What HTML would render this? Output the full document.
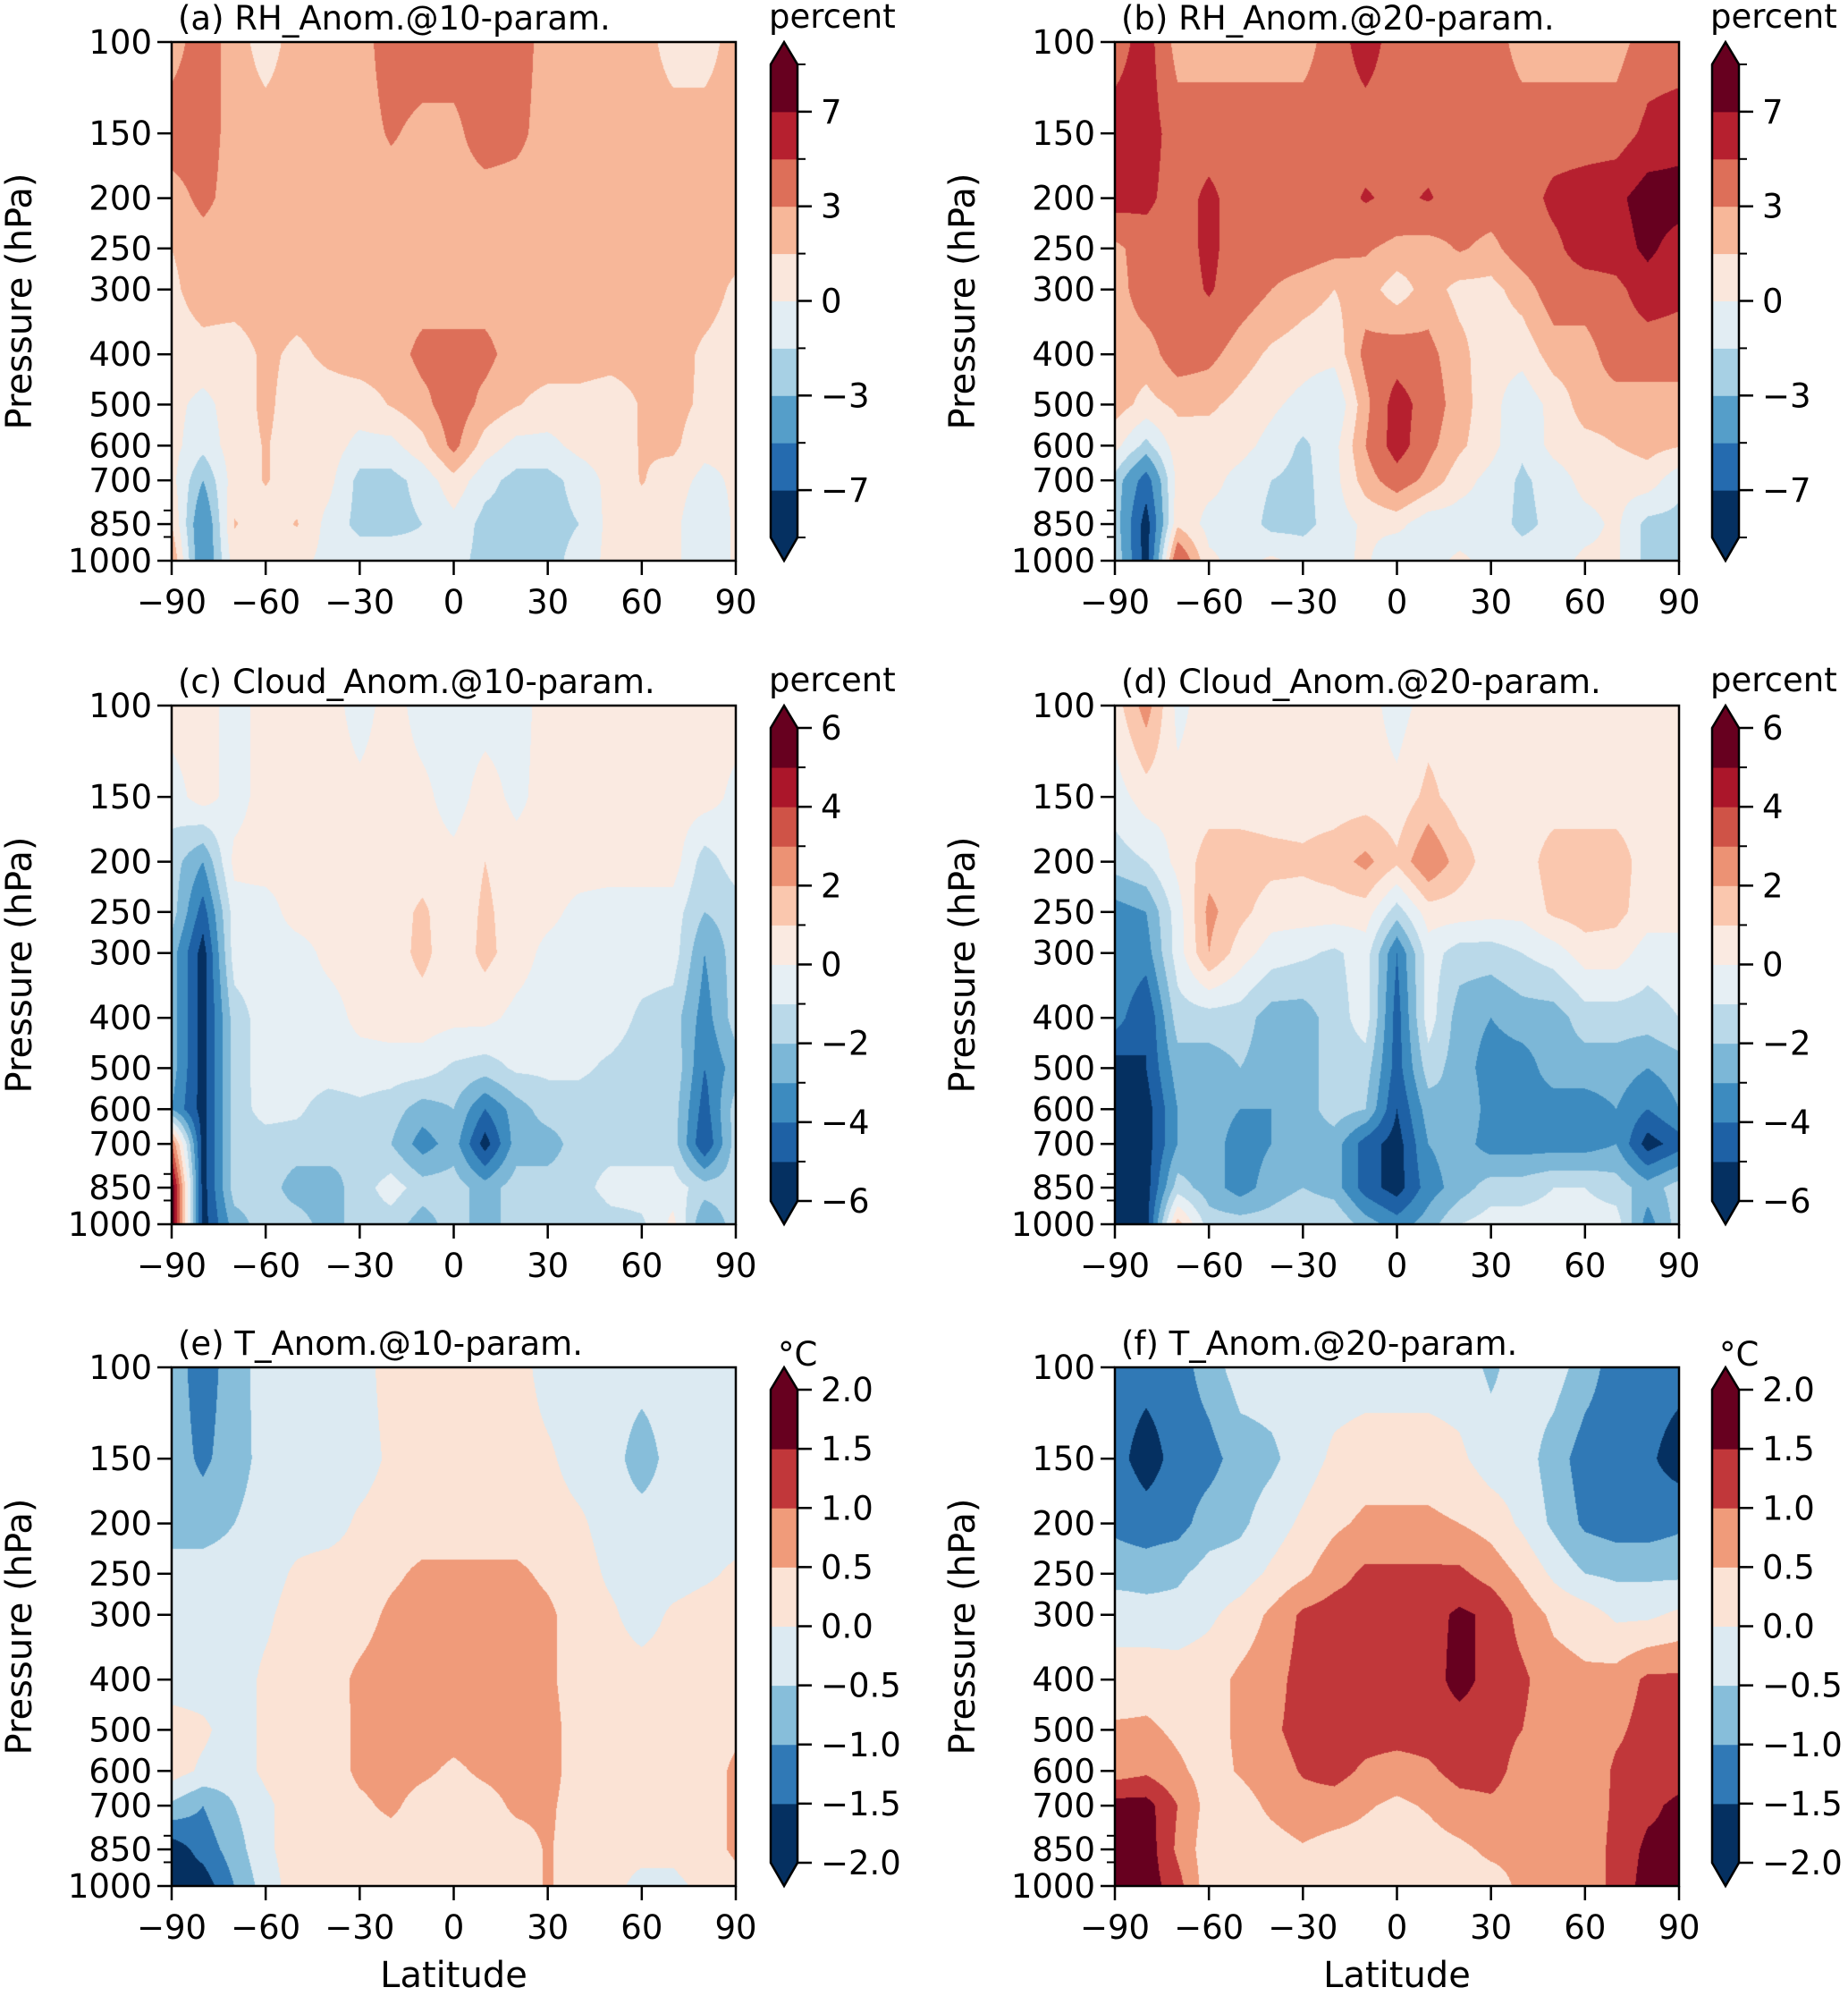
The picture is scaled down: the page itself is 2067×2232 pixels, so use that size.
<!DOCTYPE html>
<html><head><meta charset="utf-8">
<style>
html,body{margin:0;padding:0;background:#fff;}
body{width:2067px;height:2232px;position:relative;overflow:hidden;font-family:"DejaVu Sans","Liberation Sans",sans-serif;}
canvas{position:absolute;}
svg{position:absolute;left:0;top:0;}
</style></head>
<body>
<canvas id="cv0"></canvas>
<canvas id="cv1"></canvas>
<canvas id="cv2"></canvas>
<canvas id="cv3"></canvas>
<canvas id="cv4"></canvas>
<canvas id="cv5"></canvas>
<svg id="ov" width="2067" height="2232"></svg>
<script>
const LATS=[-90,-80,-70,-60,-50,-40,-30,-20,-10,0,10,20,30,40,50,60,70,80,90];
const PRES=[100,150,200,250,300,400,500,600,700,850,1000];
const latTicks=[-90,-60,-30,0,30,60,90];
const presTicks=[100,150,200,250,300,400,500,600,700,850,1000];
const presMinor=[800,900];
const rhLevels=[-9,-7,-5,-3,-1.5,0,1.5,3,5,7,9];
const rhTicks=[-7,-3,0,3,7];
const cldLevels=[-6,-5,-4,-3,-2,-1,0,1,2,3,4,5,6];
const cldTicks=[-6,-4,-2,0,2,4,6];
const tLevels=[-2,-1.5,-1,-0.5,0,0.5,1,1.5,2];
const tTicks=[-2,-1.5,-1,-0.5,0,0.5,1,1.5,2];
const tTickLabels=["−2.0","−1.5","−1.0","−0.5","0.0","0.5","1.0","1.5","2.0"];

const rh10=[
[2.2,4,2.2,0.8,2.2,2.2,2.2,4,4,4,4,4,2.2,2.2,2.2,2.2,0.8,0.8,2.2],
[4,4,2.2,2.2,2.2,2.2,2.2,3.2,2.5,2.5,4,3.5,2.2,2.2,2.2,2.2,2.2,2.2,2.2],
[2.2,3.5,2.2,2.2,2.2,2.2,2.2,2.2,2.2,2.2,2.2,2.2,2.2,2.2,2.2,2.2,2.2,2.2,2.2],
[1.5,2.2,2.2,2.2,2.2,2.2,2.2,2.2,2.2,2.2,2.2,2.2,2.2,2.2,2.2,2.2,2.2,2.2,2],
[1.2,2.2,2.2,2.2,2.2,2.2,2.2,2.2,2.2,2.2,2.2,2.2,2.2,2.2,2.2,2.2,2.2,2.2,1.2],
[0.8,1,0.8,1.8,1.2,1.8,2.2,2.2,3.5,3.5,3.5,2.2,2.2,2.2,2,2,2.2,1.2,0.8],
[0.5,-0.5,0.8,1.8,0.8,0.8,0.8,1.6,2.5,4,2.5,1.6,1,1,0.8,1.6,2,1.2,0.5],
[0.5,-1,0.8,1.6,0.8,0.8,-0.5,-0.5,1,3.5,0.8,-0.5,-0.5,0.5,0.8,1.6,1.8,0.5,0.3],
[0.5,-3,0.8,1.6,0.8,0.5,-2,-2,-1,1,-1,-2,-2,-1,0.5,1.6,0.8,-0.5,0.3],
[1.5,-5,1.6,0.8,1.6,-0.5,-2,-2,-1.5,-0.5,-2,-2,-2,-1.5,0.5,0.8,0.5,-1.5,0.3],
[3,-5,0.8,0.5,0.5,-0.5,-0.5,-0.5,-1,-1,-2,-2,-2,-1,0.5,0.5,0.5,-1.5,0.3]];
const rh20=[
[4,6,2.2,2.2,2.2,2.2,2.2,4,6,4,4,4,4,2.2,2.2,2.2,2.2,4,4],
[6,6,4,4,4,4,4,4,4,4,4,4,4,4,4,4,4,5.5,6],
[6,5.5,4,5.5,4,4,4,4,5.2,4.5,5.2,4,4,4,5.5,6,6.5,8,8],
[2.5,4,4,5.5,4,4,4,3.5,3.2,2.5,2.2,3.2,2.5,4,4.5,6,6,7.5,6],
[2.2,4,4,5.2,4,3,2.2,1.5,2.2,0.7,2.2,1,1,2.2,4,4,4.5,6,5.5],
[2.2,2.2,4,3.5,2.2,1.2,0.7,0.5,3.5,4,3.5,2,0.5,0.5,2.2,2.2,4,4,4],
[2.2,1,1.8,1.8,1,0.3,-0.5,-1.5,2.5,6,4,2.2,0.5,-1,0.5,2.2,2.2,2.2,2.2],
[0.5,-2,0.8,0.7,0.5,-0.5,-1.8,-0.5,3,6,3.5,1.8,0.5,-1.2,0.5,1,1.5,2,1.6],
[-2,-6,0.5,0.5,-0.5,-1.5,-2,-0.5,2.2,4,2.5,0.6,-0.5,-1.8,-0.8,0.5,0.5,0.8,-1],
[-2,-8,1.2,-0.5,-0.5,-2,-2,-0.8,0.3,0.5,-1,-0.8,-0.5,-2,-1,-0.5,0.3,-2,-2],
[-1.5,-8,5,0.3,-0.5,0.3,-0.5,-0.5,0.3,-1.5,-0.5,0.3,-0.5,-0.5,-0.5,0.3,0.3,-2,-2]];
const cld10=[
[0.5,0.5,-0.5,0.5,0.5,0.5,-0.5,0.5,-0.5,-0.5,-0.5,-0.5,0.5,0.5,0.5,0.5,0.5,0.5,0.5],
[-0.5,0.5,-0.5,0.5,0.5,0.5,0.3,0.5,0.3,-0.5,0.5,-0.3,0.5,0.5,0.5,0.5,0.5,0.5,-0.3],
[-1.5,-3,0.3,0.5,0.5,0.5,0.5,0.3,0.5,0.3,1,0.5,0.5,0.5,0.5,0.5,0.5,-1.5,-0.5],
[-1.5,-4.5,-0.5,-0.5,0.5,0.5,0.5,0.5,1.2,0.3,1.2,0.5,0.3,-0.3,-0.5,-0.5,-0.5,-2,-1.5],
[-2.5,-5.5,-0.5,-0.5,-0.5,0.3,0.5,0.5,1.3,0.3,1.3,0.5,-0.3,-0.5,-0.5,-0.5,-0.5,-3,-1.5],
[-2.5,-5.5,-1.5,-0.5,-0.5,-0.5,0.3,0.5,0.5,0.3,0.3,-0.3,-0.5,-0.5,-0.5,-1.2,-1.5,-3.5,-1.5],
[-2.5,-5.5,-1.5,-0.5,-0.5,-0.5,-0.5,-0.5,-0.5,-1.2,-1.5,-0.8,-0.8,-0.8,-1.2,-1.5,-1.2,-4,-2.5],
[-3,-5.5,-1.5,-0.6,-0.8,-1.5,-1.2,-1.5,-2.5,-2,-4,-2.5,-1.5,-1.5,-1.5,-1.5,-1.5,-4.5,-1.5],
[3,-5.5,-1.5,-1.5,-1.5,-1.5,-2,-2,-3.5,-2.5,-5.5,-2.5,-2.5,-1.5,-1.5,-1.5,-1.5,-5,-1.5],
[6,-5.5,-1.5,-1.5,-2.5,-2.5,-1.5,-0.5,-1.5,-1.5,-2.5,-1.5,-1.5,-1.5,-0.5,-0.5,-0.5,-1.5,-1.5],
[6,-5.5,-2.5,-1.5,-1.5,-2.5,-1.5,-1.5,-2.5,-1.5,-2.5,-1.5,-1.5,-2,-1.5,-1.2,0.3,-3,-1.5]];
const cld20=[
[0.5,2.5,-0.3,0.5,0.5,0.5,0.5,0.5,0.5,-0.5,0.5,0.5,0.5,0.5,0.5,0.5,0.5,0.5,0.5],
[-0.5,0.5,0.3,0.5,0.5,0.5,0.5,0.5,0.5,0.3,1.3,0.5,0.5,0.5,0.5,0.5,0.5,0.5,0.5],
[-1.5,-1,0.3,1.5,1.5,1.3,1.2,1.5,2.3,1.2,3,1.5,0.5,0.5,1.5,1.5,1.5,0.5,0.5],
[-3.5,-3,-0.5,2.3,1.3,0.5,0.5,0.5,0.5,-1.5,0.5,0.5,0.3,0.3,1.2,1.5,1.3,0.5,0.3],
[-3,-3.5,-0.5,2,0.5,-0.5,-0.8,-1.2,-0.5,-4,-0.5,-1.5,-1.5,-1,-0.5,0.5,0.5,-0.5,-0.3],
[-3.5,-5,-1.5,-1.5,-1.5,-2.5,-2.5,-1.5,-0.5,-4.5,-0.5,-2.5,-3,-2.5,-2.5,-1.5,-1.5,-1.5,-1],
[-5.5,-5,-2.5,-2.5,-2,-2.5,-2.5,-1.5,-1.5,-4.5,-1.5,-2.5,-3.5,-3.5,-2.5,-2.5,-2.5,-3,-2.5],
[-5.5,-5.5,-3,-2.5,-3,-3,-2.5,-1.5,-2,-5,-2.5,-2,-3.5,-3.5,-3.5,-3.5,-3,-4,-3],
[-5.5,-5.5,-3,-2.5,-3.5,-3,-2.5,-2.5,-4.5,-5.5,-3,-2.5,-3.5,-3.5,-3.5,-3.5,-3,-5.5,-4.5],
[-5.5,-5.5,-1.5,-2.5,-3.5,-2.5,-2,-2.5,-4.5,-5.5,-3.5,-2.5,-1.5,-1.5,-1,-1,-1.5,-2.5,-1.5],
[-5.5,-5.5,1.5,-1.5,-1.5,-1.5,-1,-1,-2.5,-3.5,-2.5,-1,-0.5,-0.5,-0.5,-0.5,-0.5,-3.5,-1.5]];
const t10=[
[-0.75,-1.25,-0.75,-0.25,-0.25,-0.25,-0.25,0.25,0.25,0.25,0.25,0.25,-0.25,-0.25,-0.25,-0.25,-0.25,-0.25,-0.25],
[-0.75,-1.1,-0.75,-0.3,-0.25,-0.25,-0.25,0.1,0.25,0.25,0.25,0.25,0.1,-0.25,-0.25,-0.8,-0.25,-0.25,-0.25],
[-0.75,-0.75,-0.5,-0.25,-0.25,-0.25,0.1,0.25,0.25,0.25,0.25,0.25,0.25,0.1,-0.25,-0.25,-0.25,-0.25,-0.25],
[-0.25,-0.25,-0.25,-0.25,0.1,0.25,0.25,0.4,0.6,0.6,0.6,0.6,0.4,0.25,-0.1,-0.25,-0.25,-0.1,0.1],
[-0.25,-0.25,-0.25,-0.1,0.25,0.25,0.3,0.6,0.75,0.75,0.75,0.75,0.6,0.25,0.1,-0.25,0.1,0.25,0.25],
[-0.25,-0.25,-0.25,0.1,0.25,0.3,0.6,0.75,0.75,0.75,0.75,0.75,0.6,0.25,0.25,0.25,0.25,0.25,0.25],
[0.25,0.1,-0.25,0.1,0.25,0.25,0.6,0.75,0.75,0.7,0.75,0.75,0.7,0.25,0.25,0.25,0.25,0.25,0.4],
[0.25,-0.1,-0.25,0.1,0.25,0.25,0.6,0.7,0.6,0.4,0.6,0.7,0.7,0.25,0.25,0.25,0.25,0.25,0.6],
[-0.6,-1,-0.5,-0.1,0.25,0.25,0.4,0.6,0.3,0.25,0.3,0.6,0.6,0.25,0.25,0.25,0.25,0.25,0.6],
[-1.8,-1.3,-0.75,-0.1,0.25,0.25,0.25,0.25,0.25,0.25,0.25,0.25,0.55,0.25,0.1,0.1,0.1,0.25,0.6],
[-1.8,-1.8,-1,-0.25,0.25,0.25,0.25,0.25,0.25,0.25,0.25,0.25,0.55,0.25,0.1,-0.1,-0.1,0.1,0.3]];
const t20=[
[-1.25,-1.3,-1.25,-0.75,-0.25,-0.25,-0.25,-0.25,-0.25,-0.25,-0.25,-0.25,-0.6,-0.25,-0.25,-0.75,-1.25,-1.25,-1.3],
[-1.3,-1.75,-1.3,-1.2,-0.75,-0.6,-0.25,0.1,0.25,0.25,0.25,0.1,-0.25,-0.25,-0.75,-1.25,-1.3,-1.4,-1.75],
[-1.1,-1.25,-1.2,-0.75,-0.6,-0.25,0.1,0.4,0.6,0.6,0.6,0.5,0.3,-0.1,-0.6,-1.1,-1.25,-1.25,-1.1],
[-0.75,-0.75,-0.6,-0.3,-0.25,0.1,0.4,0.8,1.1,1.1,1.1,1.1,0.8,0.4,-0.1,-0.5,-0.6,-0.6,-0.6],
[-0.1,-0.25,-0.3,-0.1,0.2,0.6,1.1,1.25,1.25,1.25,1.3,1.6,1.4,0.8,0.4,0.25,-0.1,-0.1,0.1],
[0.1,0.25,0.25,0.3,0.6,0.8,1.2,1.25,1.25,1.25,1.25,1.7,1.3,1.1,0.7,0.6,0.7,1.1,1.1],
[0.6,0.6,0.4,0.3,0.6,0.9,1.2,1.25,1.25,1.25,1.25,1.25,1.2,1.0,0.7,0.6,0.9,1.2,1.2],
[0.75,0.9,0.6,0.3,0.55,0.75,1.05,1.2,0.9,0.75,0.9,1.2,1.2,0.8,0.7,0.6,1.1,1.2,1.3],
[1.7,1.7,1.0,0.3,0.3,0.6,0.8,0.75,0.55,0.4,0.55,0.8,0.9,0.75,0.7,0.65,1.1,1.4,1.6],
[1.7,1.8,0.9,0.2,0.25,0.3,0.45,0.3,0.3,0.3,0.3,0.4,0.6,0.6,0.6,0.6,1.2,1.6,1.6],
[1.7,1.8,1.2,0.2,0.25,0.25,0.25,0.25,0.25,0.25,0.25,0.25,0.3,0.6,0.6,0.6,1.2,1.7,1.5]];

const ANCH=["053061","2166ac","4393c3","92c5de","d1e5f0","f7f7f7","fddbc7","f4a582","d6604d","b2182b","67001f"].map(h=>[parseInt(h.slice(0,2),16),parseInt(h.slice(2,4),16),parseInt(h.slice(4,6),16)]);
function cmap(t){t=Math.max(0,Math.min(1,t));const f=t*10;const i=Math.min(9,Math.floor(f));const r=f-i;return ANCH[i].map((c,k)=>Math.round(c+(ANCH[i+1][k]-c)*r));}
function bandColors(levels){const n=levels.length-1;const out=[];for(let i=0;i<n;i++)out.push(cmap(i/(n-1)));return out;}
const rgb=c=>`rgb(${c[0]},${c[1]},${c[2]})`;

const COLX=[192,1247], CBX=[862,1915], ROWY=[47,789,1529], PW=631, PH=580, CBW=30;
const panels=[
 {data:rh10,levels:rhLevels,ticks:rhTicks,labels:null,title:"(a) RH_Anom.@10-param.",unit:"percent",c:0,r:0},
 {data:rh20,levels:rhLevels,ticks:rhTicks,labels:null,title:"(b) RH_Anom.@20-param.",unit:"percent",c:1,r:0},
 {data:cld10,levels:cldLevels,ticks:cldTicks,labels:null,title:"(c) Cloud_Anom.@10-param.",unit:"percent",c:0,r:1},
 {data:cld20,levels:cldLevels,ticks:cldTicks,labels:null,title:"(d) Cloud_Anom.@20-param.",unit:"percent",c:1,r:1},
 {data:t10,levels:tLevels,ticks:tTicks,labels:tTickLabels,title:"(e) T_Anom.@10-param.",unit:"°C",c:0,r:2},
 {data:t20,levels:tLevels,ticks:tTicks,labels:tTickLabels,title:"(f) T_Anom.@20-param.",unit:"°C",c:1,r:2}];

const LP=PRES.map(p=>Math.log(p));
const lp0=Math.log(100), lp1=Math.log(1000);
function yOf(p,y0){return y0+PH*(Math.log(p)-lp0)/(lp1-lp0);}
function xOf(lat,x0){return x0+PW*(lat+90)/180;}
function sample(g,lat,lp){
 let fi=(lat-LATS[0])/(LATS[1]-LATS[0]);let i=Math.min(LATS.length-2,Math.max(0,Math.floor(fi)));let fx=fi-i;
 let j=0;while(j<LP.length-2&&lp>LP[j+1])j++;let fy=(lp-LP[j])/(LP[j+1]-LP[j]);fy=Math.max(0,Math.min(1,fy));
 const a=g[j][i],b=g[j][i+1],c=g[j+1][i],d=g[j+1][i+1];
 return (a*(1-fx)+b*fx)*(1-fy)+(c*(1-fx)+d*fx)*fy;}

const NS="http://www.w3.org/2000/svg";
const ov=document.getElementById('ov');
function el(tag,attrs,parent){const e=document.createElementNS(NS,tag);for(const k in attrs)e.setAttribute(k,attrs[k]);(parent||ov).appendChild(e);return e;}
function fmt(v){return (v<0?"−":"")+Math.abs(v);}

panels.forEach((P,idx)=>{
 const x0=COLX[P.c], y0=ROWY[P.r], cbx=CBX[P.c];
 const cols=bandColors(P.levels);
 const cv=document.getElementById('cv'+idx);
 cv.width=PW;cv.height=PH;cv.style.left=x0+'px';cv.style.top=y0+'px';
 const ctx=cv.getContext('2d');const img=ctx.createImageData(PW,PH);
 const n=P.levels.length-1;
 for(let py=0;py<PH;py++){const lp=lp0+(lp1-lp0)*(py+0.5)/PH;
  for(let px=0;px<PW;px++){const lat=-90+180*(px+0.5)/PW;const v=sample(P.data,lat,lp);
   let k=0;while(k<n-1&&v>=P.levels[k+1])k++;const c=cols[k];const o=(py*PW+px)*4;
   img.data[o]=c[0];img.data[o+1]=c[1];img.data[o+2]=c[2];img.data[o+3]=255;}}
 ctx.putImageData(img,0,0);

 const g=el('g',{});
 
 
 const fr=el('rect',{x:x0,y:y0,width:PW,height:PH,fill:'none',stroke:'#000','stroke-width':2.5},g);
 
 
 const t=el('text',{x:x0+7,y:y0-14,'font-size':37,fill:'#000'},g);t.textContent=P.title;
 
 
 // y ticks
 presTicks.forEach(p=>{const y=yOf(p,y0);el('line',{x1:x0-16,x2:x0,y1:y,y2:y,stroke:'#000','stroke-width':2.5},g);
  const tx=el('text',{x:x0-22,y:y+13,'font-size':37,'text-anchor':'end'},g);tx.textContent=p;
  
  });
 presMinor.forEach(p=>{const y=yOf(p,y0);el('line',{x1:x0-9,x2:x0,y1:y,y2:y,stroke:'#000','stroke-width':2},g);});
 latTicks.forEach(l=>{const x=xOf(l,x0);el('line',{x1:x,x2:x,y1:y0+PH,y2:y0+PH+16,stroke:'#000','stroke-width':2.5},g);
  const tx=el('text',{x:x,y:y0+PH+59,'font-size':37,'text-anchor':'middle'},g);tx.textContent=fmt(l);
  
  });
 const yl=el('text',{x:0,y:0,'font-size':40,'text-anchor':'middle',transform:`translate(${x0-157},${y0+PH/2}) rotate(-90)`},g);
 yl.textContent="Pressure (hPa)";
 
 
 if(P.r===2){const xl=el('text',{x:x0+PW/2,y:2222,'font-size':40,'text-anchor':'middle'},g);xl.textContent="Latitude";
  
  }
 // colorbar
 const cb=el('g',{},g);
 
 
 const ct=y0+25, cbot=y0+PH-26, bh=(cbot-ct)/n;
 const yL=v=>{const k=P.levels.indexOf(v);return cbot-k*bh;};
 for(let k=0;k<n;k++){const r=el('rect',{x:cbx,y:cbot-(k+1)*bh,width:CBW,height:bh+0.5,fill:rgb(cols[k])},cb);
  
  }
 el('polygon',{points:`${cbx},${ct} ${cbx+CBW/2},${y0} ${cbx+CBW},${ct}`,fill:rgb(cols[n-1])},cb);
 el('polygon',{points:`${cbx},${cbot} ${cbx+CBW/2},${y0+PH} ${cbx+CBW},${cbot}`,fill:rgb(cols[0])},cb);
 el('polygon',{points:`${cbx},${ct} ${cbx+CBW/2},${y0} ${cbx+CBW},${ct} ${cbx+CBW},${cbot} ${cbx+CBW/2},${y0+PH} ${cbx},${cbot}`,fill:'none',stroke:'#000','stroke-width':2.5},cb);
 P.levels.forEach(v=>{const y=yL(v);el('line',{x1:cbx+CBW,x2:cbx+CBW+9,y1:y,y2:y,stroke:'#000','stroke-width':2},cb);});
 P.ticks.forEach((v,i)=>{const y=yL(v);el('line',{x1:cbx+CBW,x2:cbx+CBW+16,y1:y,y2:y,stroke:'#000','stroke-width':2.5},cb);
  const tx=el('text',{x:cbx+CBW+26,y:y+13,'font-size':37},cb);tx.textContent=P.labels?P.labels[i]:fmt(v);
  
  });
 const u=el('text',{x:P.unit==="°C"?cbx+8:cbx-2,y:P.unit==="°C"?y0-2:y0-16,'font-size':37},cb);u.textContent=P.unit;
 
 
});
</script>
</body></html>
